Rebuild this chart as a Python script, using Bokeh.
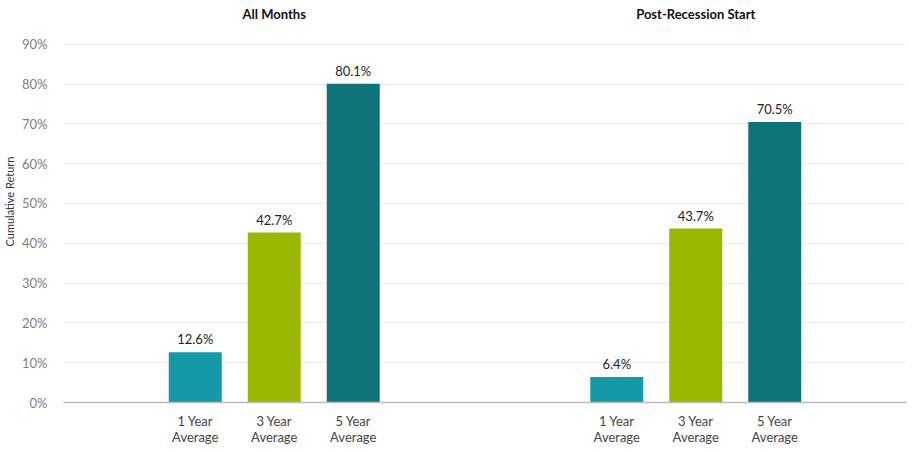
from bokeh.plotting import figure
from bokeh.models import Range1d, ColumnDataSource, FixedTicker, PrintfTickFormatter
from bokeh.core.properties import value
from bokeh.embed import file_html
from bokeh.resources import INLINE

groups = ["All Months", "Post-Recession Start"]
periods = ["1 Year\nAverage", "3 Year\nAverage", "5 Year\nAverage"]
all_months = [12.6, 42.7, 80.1]
post_recession = [6.4, 43.7, 70.5]
colors = ["#1699A6", "#9AB800", "#0F737A"]
y_ticks = [0, 10, 20, 30, 40, 50, 60, 70, 80, 90]

# layout constants (x in group units: each group spans 1.0)
group_centers = [0.5, 1.5]
bar_offsets = [-0.1874, 0.0, 0.1874]
bar_width = 0.1257

series = [all_months, post_recession]
xs, ys, cs, labels = [], [], [], []
for gc, vals in zip(group_centers, series):
    for off, v, c in zip(bar_offsets, vals, colors):
        xs.append(gc + off)
        ys.append(v)
        cs.append(c)
        labels.append(f"{v:.1f}%")
src = ColumnDataSource(dict(x=xs, top=ys, color=cs, label=labels))

FONT = "Lato"
p = figure(x_range=Range1d(0, 2), y_range=Range1d(0, 101.0), width=920, height=452,
           output_backend="svg", toolbar_location=None,
           min_border_left=63, min_border_right=14, min_border_top=0, min_border_bottom=50)
p.outline_line_color = None
p.background_fill_color = "white"

p.vbar(x="x", top="top", width=bar_width, color="color", source=src, line_color=None)
p.text(x="x", y="top", text="label", source=src, text_align="center", text_baseline="bottom",
       y_offset=-5, text_font=value(FONT), text_font_size="13px", text_color="#222222")

tsrc = ColumnDataSource(dict(x=group_centers, y=[97.6, 97.6], t=groups))
p.text(x="x", y="y", text="t", source=tsrc, text_align="center", text_baseline="middle",
       text_font=value(FONT), text_font_size="13px", text_font_style="bold", text_color="#111111")

# grid
p.xgrid.grid_line_color = None
p.ygrid.grid_line_color = "#EBEBEB"
p.ygrid.ticker = FixedTicker(ticks=y_ticks)

# y axis
p.yaxis.ticker = FixedTicker(ticks=y_ticks)
p.yaxis.formatter = PrintfTickFormatter(format="%d%%")
p.yaxis.axis_line_color = None
p.yaxis.major_tick_line_color = None
p.yaxis.minor_tick_line_color = None
p.yaxis.major_label_text_font = FONT
p.yaxis.major_label_text_font_size = "13px"
p.yaxis.major_label_text_color = "#808080"
p.yaxis.major_label_standoff = 10
p.yaxis.axis_label = "Cumulative Return"
p.yaxis.axis_label_text_font = FONT
p.yaxis.axis_label_text_font_size = "11px"
p.yaxis.axis_label_text_font_style = "normal"
p.yaxis.axis_label_text_color = "#333333"
p.yaxis.axis_label_standoff = 3

# x axis
p.xaxis.ticker = FixedTicker(ticks=xs[:])
p.xaxis.major_label_overrides = {x: periods[i % 3] for i, x in enumerate(xs)}
p.xaxis.axis_line_color = "#BDBDBD"
p.xaxis.axis_line_width = 1.5
p.xaxis.major_tick_line_color = None
p.xaxis.minor_tick_line_color = None
p.xaxis.major_label_text_font = FONT
p.xaxis.major_label_text_font_size = "13px"
p.xaxis.major_label_text_color = "#444444"
p.xaxis.major_label_text_line_height = 1.0
p.xaxis.major_label_standoff = 4

open("out.html", "w").write(file_html(p, INLINE))
